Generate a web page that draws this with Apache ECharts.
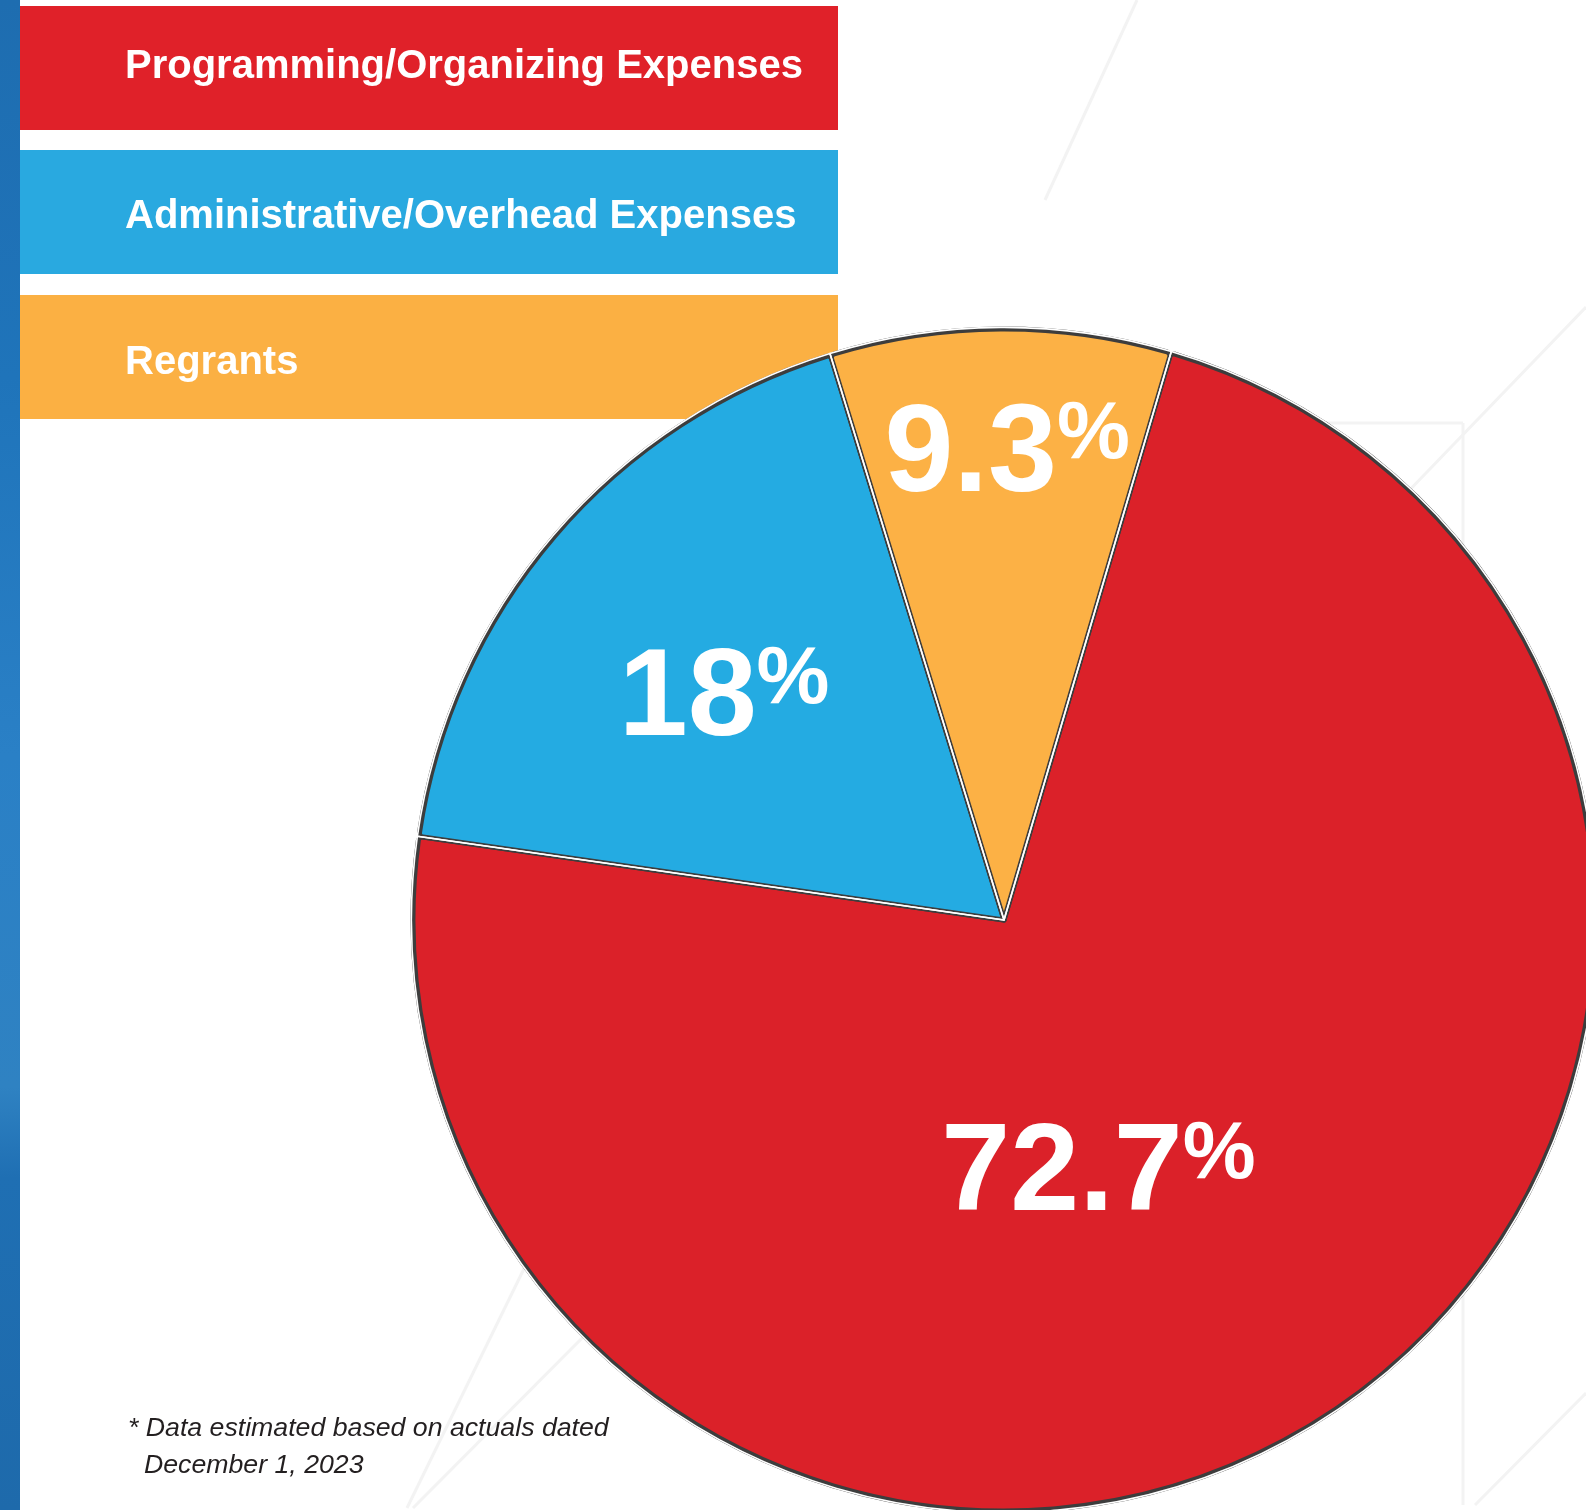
<!DOCTYPE html>
<html>
<head>
<meta charset="utf-8">
<script src="https://cdn.jsdelivr.net/npm/echarts@6/dist/echarts.min.js"></script>
<style>
html,body{margin:0;padding:0;background:#ffffff;}
#chart{width:1586px;height:1510px;}
</style>
</head>
<body>
<div id="chart"></div>
<script>
// ---- data ----
const categories = ['Programming/Organizing Expenses', 'Administrative/Overhead Expenses', 'Regrants'];
const shares = [72.7, 18, 9.3];
const sliceColors = ['#db2129', '#24abe2', '#fcb145'];
const boxColors = ['#e02129', '#29a9e0', '#fbb043'];
const footnoteLines = ['* Data estimated based on actuals dated', 'December 1, 2023'];

// ---- layout / style (not data) ----
const CX = 1004, CY = 920, R = 591;
const START = 73.6;
const labelShift = [[-67, 5], [-53, -25], [5, -165]];
const boxTops = [6, 150, 295];
const boxTextY = [67, 216.5, 363];

const chart = echarts.init(document.getElementById('chart'), null, {renderer: 'canvas'});

const faint = {stroke: '#f3f3f3', lineWidth: 3};
const bgLines = [
  [[1137, 0], [1045, 200]],
  [[1586, 307], [1400, 500]],
  [[1320, 423], [1463, 423]],
  [[1463, 423], [1463, 1505]],
  [[1586, 1393], [1475, 1505]],
  [[540, 1236], [407, 1508]],
  [[600, 1320], [413, 1508]]
];

const graphic = [];
graphic.push({
  type: 'rect', z: 0,
  shape: {x: 0, y: 0, width: 20, height: 1510},
  style: {
    fill: new echarts.graphic.LinearGradient(0, 0, 0, 1, [
      {offset: 0, color: '#1e6db0'},
      {offset: 0.25, color: '#1f74ba'},
      {offset: 0.5, color: '#2a80c6'},
      {offset: 0.72, color: '#2f82c2'},
      {offset: 0.78, color: '#1f6fb3'},
      {offset: 1, color: '#1e6aab'}
    ])
  }
});
bgLines.forEach(function (l) {
  graphic.push({type: 'line', z: 0, shape: {x1: l[0][0], y1: l[0][1], x2: l[1][0], y2: l[1][1]}, style: faint});
});
categories.forEach(function (name, i) {
  graphic.push({
    type: 'rect', z: 1,
    shape: {x: 20, y: boxTops[i], width: 818, height: 124},
    style: {fill: boxColors[i]}
  });
  graphic.push({
    type: 'text', z: 1, x: 125, y: boxTextY[i],
    style: {
      text: name, fill: '#ffffff', fontSize: 40, fontWeight: 'bold',
      fontFamily: 'Liberation Sans', align: 'left', verticalAlign: 'middle'
    }
  });
});
graphic.push({
  type: 'text', z: 1, x: 128, y: 1429,
  style: {text: footnoteLines[0], fill: '#231f20', fontSize: 26.7, fontStyle: 'italic',
    fontFamily: 'Liberation Sans', align: 'left', verticalAlign: 'middle'}
});
graphic.push({
  type: 'text', z: 1, x: 144, y: 1466,
  style: {text: footnoteLines[1], fill: '#231f20', fontSize: 26.7, fontStyle: 'italic',
    fontFamily: 'Liberation Sans', align: 'left', verticalAlign: 'middle'}
});

const pieData = categories.map(function (n, i) {
  return {name: n, value: shares[i], itemStyle: {color: sliceColors[i]}};
});
const lineData = categories.map(function (n, i) {
  return {name: n, value: shares[i]};
});

chart.setOption({
  animation: false,
  backgroundColor: '#ffffff',
  graphic: graphic,
  series: [
    {
      type: 'pie', z: 2, silent: true,
      center: [CX, CY], radius: [0, R],
      startAngle: START, clockwise: true,
      emphasis: {disabled: true},
      itemStyle: {borderColor: '#3d3d3d', borderWidth: 5, borderRadius: [0, 4]},
      labelLine: {show: false},
      label: {
        show: true, position: 'inside',
        formatter: function (p) { return '{n|' + p.value + '}{p|%}'; },
        rich: {
          n: {fontSize: 124, fontWeight: 'bold', fontFamily: 'Liberation Sans', color: '#ffffff', lineHeight: 124},
          p: {fontSize: 82, fontWeight: 'bold', fontFamily: 'Liberation Sans', color: '#ffffff', lineHeight: 95, verticalAlign: 'top'}
        }
      },
      labelLayout: function (params) {
        const s = labelShift[params.dataIndex];
        return {dx: s[0], dy: s[1]};
      },
      data: pieData
    },
    {
      type: 'pie', z: 3, silent: true,
      center: [CX, CY], radius: [0, R + 1.6],
      startAngle: START, clockwise: true,
      emphasis: {disabled: true},
      itemStyle: {color: 'rgba(0,0,0,0)', borderColor: '#ffffff', borderWidth: 1.6},
      label: {show: false}, labelLine: {show: false},
      data: lineData
    }
  ]
});
</script>
</body>
</html>
